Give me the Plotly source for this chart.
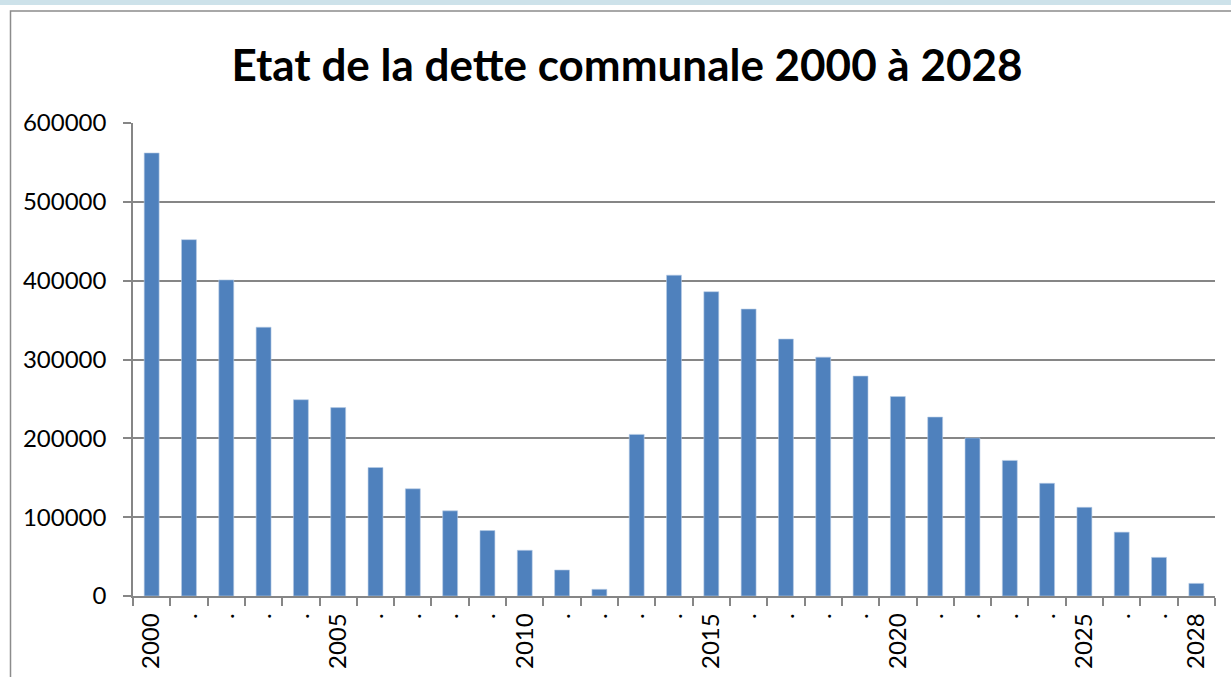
import plotly.graph_objects as go

years = [str(y) for y in range(2000, 2029)]
debt = [562000, 452000, 401000, 341000, 249000, 239000, 163000, 136000, 108000, 83000,
        58000, 33000, 8500, 205000, 407000, 386000, 364000, 326000, 303000, 279000,
        253000, 227000, 200500, 172000, 143000, 112500, 81000, 49000, 16000]
tick_labels = [y if (int(y) % 5 == 0 or y == "2028") else "." for y in years]
y_ticks = [0, 100000, 200000, 300000, 400000, 500000, 600000]

title_text = "Etat de la dette communale 2000 à 2028"

L, R, T, B = 133, 16, 123, 81
W, H = 1231, 677
pw, ph = W - L - R, H - T - B


def px_x(x):
    return (x - L) / pw


def px_y(y):
    return (H - B - y) / ph


fig = go.Figure()
fig.add_trace(go.Bar(
    x=years, y=debt,
    marker=dict(color="#4f81bd", line=dict(color="#b9cde5", width=0.6)),
    hoverinfo="x+y",
))

fig.update_layout(
    width=W, height=H,
    margin=dict(l=L, r=R, t=T, b=B, pad=0, autoexpand=False),
    paper_bgcolor="white", plot_bgcolor="white",
    bargap=0.6,
    showlegend=False,
    title=dict(text="<b>" + title_text + "</b>", x=627 / W, xanchor="center",
               y=1 - 66 / H, yanchor="middle", automargin=False,
               font=dict(family="Lato", size=44, color="black")),
    font=dict(family="Lato", size=24, color="black"),
    xaxis=dict(
        type="category", tickmode="array", tickvals=years, ticktext=tick_labels,
        tickson="boundaries", ticks="outside", ticklen=8, tickcolor="#868686", tickwidth=1.5,
        tickangle=-90, showgrid=False, showline=True, linecolor="#868686", linewidth=1.5,
        ticklabelstandoff=6, automargin=False,
        tickfont=dict(family="Lato", size=24, color="black"),
    ),
    yaxis=dict(
        range=[0, 600000], tickmode="array", tickvals=y_ticks,
        ticktext=[str(v) for v in y_ticks],
        ticks="outside", ticklen=8, tickcolor="#868686", tickwidth=1.5,
        showgrid=True, gridcolor="#868686", gridwidth=1.5,
        showline=True, linecolor="#868686", linewidth=1.5, zeroline=False,
        ticklabelstandoff=12, automargin=False,
        tickfont=dict(family="Lato", size=24, color="black"),
    ),
    shapes=[
        dict(type="rect", xref="paper", yref="paper",
             x0=px_x(0), x1=px_x(W), y0=px_y(5), y1=px_y(0),
             fillcolor="#cde2ea", line=dict(width=0), layer="below"),
        dict(type="rect", xref="paper", yref="paper",
             x0=px_x(10.5), x1=px_x(W + 20), y0=px_y(H + 20), y1=px_y(11),
             fillcolor="rgba(0,0,0,0)", line=dict(color="#8c8c8c", width=1.5), layer="below"),
    ],
)

fig.write_html("out.html", config={"displayModeBar": False},
               post_script="document.body.style.margin='0';document.body.style.overflow='hidden';")
